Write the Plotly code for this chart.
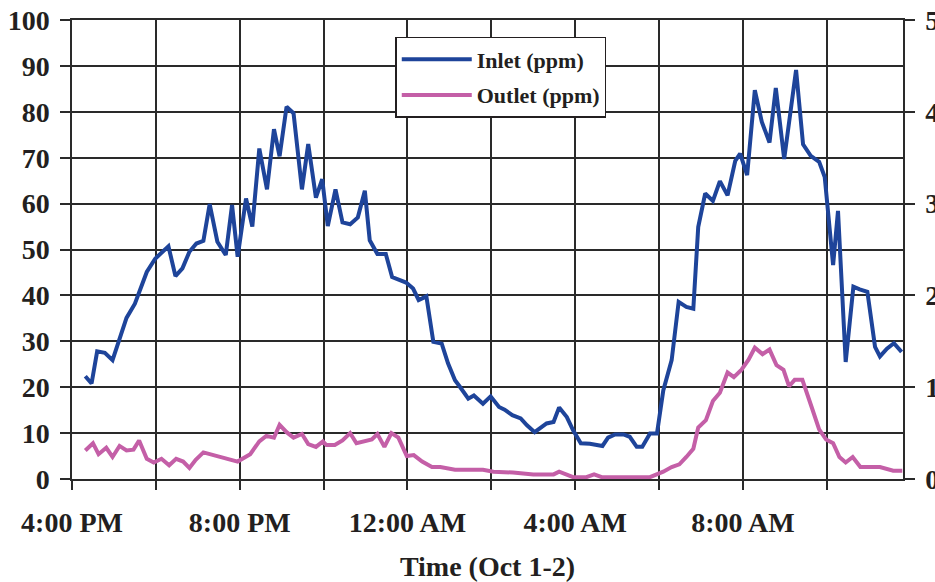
import plotly.graph_objects as go

# Sampling times, in minutes after 4:00 PM on Oct 1
inlet_minutes = [
    19, 28, 36, 47, 58, 78, 90, 107, 119, 138, 148, 158, 168, 178, 188, 197,
    208, 220, 229, 237, 249, 258, 268, 279, 289, 297, 307, 317, 329, 338, 349,
    358, 366, 377, 387, 398, 409, 419, 426, 437, 449, 458, 478, 488, 496, 507,
    517, 529, 538, 548, 555, 567, 575, 588, 599, 611, 619, 630, 642, 651, 662,
    670, 679, 689, 697, 708, 717, 728, 741, 759, 767, 777, 789, 798, 808, 816,
    827, 837, 846, 858, 868, 879, 889, 896, 906, 917, 927, 938, 949, 956, 966,
    977, 987, 998, 1007, 1019, 1036, 1046, 1057, 1069, 1077, 1089, 1096, 1107,
    1118, 1127, 1138, 1149, 1156, 1166, 1176, 1187,
]
# Inlet concentration (ppm, left axis)
inlet_ppm = [
    22.4, 20.8, 27.8, 27.5, 25.9, 35.1, 38.2, 45.1, 48.0, 50.7, 44.2, 45.9,
    49.5, 51.3, 51.9, 59.9, 51.7, 48.8, 59.7, 48.4, 61.1, 55.0, 72.0, 63.1,
    76.2, 70.3, 81.1, 79.7, 63.1, 73.0, 61.3, 65.3, 55.1, 63.1, 55.9, 55.5,
    57.0, 62.8, 52.0, 49.0, 49.0, 44.0, 42.8, 41.5, 39.0, 39.8, 29.9, 29.5,
    25.2, 21.5, 20.1, 17.5, 18.2, 16.4, 18.0, 15.7, 15.1, 13.9, 13.2, 11.7,
    10.2, 11.0, 12.1, 12.4, 15.6, 13.5, 10.6, 7.8, 7.7, 7.2, 9.0, 9.7, 9.7,
    9.2, 7.0, 7.0, 9.9, 9.9, 19.3, 25.9, 38.6, 37.5, 37.1, 54.9, 62.2, 60.6,
    64.9, 61.8, 69.3, 70.9, 66.2, 84.7, 77.8, 73.3, 85.2, 69.7, 89.1, 72.9,
    70.4, 69.1, 65.8, 46.6, 58.4, 25.5, 41.9, 41.3, 40.8, 28.8, 26.7, 28.4,
    29.6, 27.7,
]

outlet_minutes = [
    19, 30, 38, 49, 58, 68, 78, 88, 96, 107, 117, 128, 139, 149, 159, 168,
    177, 188, 237, 255, 268, 278, 289, 297, 307, 317, 329, 338, 349, 359, 364,
    376, 387, 398, 407, 422, 429, 437, 447, 457, 467, 479, 489, 501, 515, 527,
    548, 588, 603, 631, 660, 689, 697, 717, 736, 747, 758, 827, 846, 858, 869,
    879, 889, 896, 907, 917, 927, 938, 947, 958, 968, 977, 988, 998, 1008,
    1018, 1026, 1034, 1045, 1058, 1069, 1079, 1089, 1098, 1107, 1117, 1128,
    1156, 1175, 1188,
]
# Outlet concentration (ppm, right axis)
outlet_ppm = [
    0.31, 0.39, 0.27, 0.34, 0.24, 0.36, 0.31, 0.32, 0.42, 0.22, 0.18, 0.22,
    0.15, 0.22, 0.19, 0.12, 0.21, 0.29, 0.19, 0.27, 0.41, 0.47, 0.45, 0.59,
    0.51, 0.45, 0.49, 0.38, 0.35, 0.41, 0.37, 0.37, 0.42, 0.50, 0.39, 0.41,
    0.43, 0.49, 0.35, 0.50, 0.45, 0.25, 0.26, 0.19, 0.13, 0.13, 0.10, 0.10,
    0.08, 0.07, 0.05, 0.05, 0.08, 0.02, 0.02, 0.05, 0.02, 0.02, 0.08, 0.13,
    0.16, 0.24, 0.33, 0.56, 0.64, 0.85, 0.94, 1.16, 1.11, 1.19, 1.30, 1.43,
    1.36, 1.41, 1.24, 1.19, 1.01, 1.08, 1.08, 0.79, 0.54, 0.43, 0.39, 0.24,
    0.18, 0.24, 0.13, 0.13, 0.09, 0.09,
]

# Axis ticks: grid every 2 hours, labels every 4 hours
tick_minutes = [0, 120, 240, 360, 480, 600, 720, 840, 960, 1080]
tick_labels = ["4:00 PM", "", "8:00 PM", "", "12:00 AM", "", "4:00 AM", "",
               "8:00 AM", ""]
x_end = 1189

INK = "#231f20"
GRID = "#2a2a2a"
FONT = "Liberation Serif"

fig = go.Figure()
fig.add_trace(go.Scatter(
    x=inlet_minutes, y=inlet_ppm, name="Inlet (ppm)", mode="lines",
    line=dict(color="#1e449a", width=4), legendgroup="in",
))
fig.add_trace(go.Scatter(
    x=outlet_minutes, y=outlet_ppm, name="Outlet (ppm)", mode="lines",
    line=dict(color="#c45fa7", width=4), legendgroup="out", yaxis="y2",
))

tick_font = dict(family=FONT, size=28, color=INK, weight="bold")

fig.update_layout(
    width=935, height=582,
    margin=dict(l=72, r=32, t=20, b=103),
    paper_bgcolor="white", plot_bgcolor="white",
    showlegend=True,
    legend=dict(
        x=0.389, y=0.963, xanchor="left", yanchor="top",
        bgcolor="white", bordercolor=INK, borderwidth=1.5,
        font=dict(family=FONT, size=22, color=INK, weight="bold"),
        tracegroupgap=4, itemwidth=70,
    ),
    xaxis=dict(
        range=[0, x_end], tickmode="array", tickvals=tick_minutes,
        ticktext=tick_labels, tickfont=tick_font, automargin=False,
        showgrid=True, gridcolor=GRID, gridwidth=1.5,
        ticks="outside", ticklen=9, tickwidth=1.5, tickcolor=GRID,
        ticklabelstandoff=9,
        showline=True, linecolor=GRID, linewidth=1.5, mirror=True,
        zeroline=False,
        title=dict(text="Time (Oct 1-2)", font=tick_font, standoff=22),
    ),
    yaxis=dict(
        range=[0, 100], dtick=10, tickfont=tick_font, automargin=False,
        showgrid=True, gridcolor=GRID, gridwidth=1.5,
        ticks="outside", ticklen=10, tickwidth=1.5, tickcolor=GRID,
        ticklabelstandoff=5,
        showline=True, linecolor=GRID, linewidth=1.5, zeroline=False,
    ),
    yaxis2=dict(
        range=[0, 5], dtick=1, overlaying="y", side="right",
        tickfont=tick_font, showgrid=False, automargin=False,
        ticks="outside", ticklen=10, tickwidth=1.5, tickcolor=GRID,
        ticklabelstandoff=5,
        showline=True, linecolor=GRID, linewidth=1.5, zeroline=False,
    ),
)

fig.write_html("out.html")
